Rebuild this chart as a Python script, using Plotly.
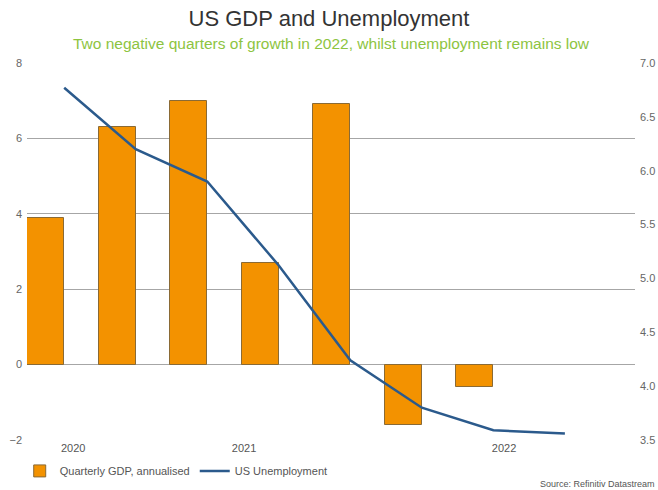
import numpy as np
import plotly.graph_objects as go

# Quarterly GDP growth (annualised, %) and US unemployment rate (%)
gdp_quarters = ["Q4 2020", "Q1 2021", "Q2 2021", "Q3 2021", "Q4 2021", "Q1 2022", "Q2 2022"]
gdp_growth = [3.9, 6.3, 7.0, 2.7, 6.9, -1.6, -0.6]
unemployment = [6.77, 6.2, 5.9, 5.12, 4.24, 3.8, 3.59, 3.56]
year_labels = ["2020", "2021", "2022"]

BAR_WIDTH = 0.52
bar_x = np.arange(len(gdp_growth))
line_x = np.arange(len(unemployment)) + BAR_WIDTH / 2
year_tick_pos = [0.385, 2.775, 6.41]

FONT = "Liberation Sans, Arial, sans-serif"
GRID = "#a6a6a6"
TICK = "#666666"

fig = go.Figure()
fig.add_trace(go.Bar(
    x=bar_x, y=gdp_growth, width=BAR_WIDTH,
    name="Quarterly GDP, annualised",
    customdata=gdp_quarters,
    marker=dict(color="#f39200", line=dict(color="#8a6a35", width=1)),
    yaxis="y",
))
fig.add_trace(go.Scatter(
    x=line_x, y=unemployment, mode="lines",
    name="US Unemployment",
    line=dict(color="#2b5a8c", width=2.5),
    yaxis="y2",
))

fig.update_layout(
    width=658, height=490,
    margin=dict(l=27, r=23, t=63, b=50, autoexpand=False),
    paper_bgcolor="white", plot_bgcolor="white",
    font=dict(family=FONT, color=TICK, size=11),
    title=dict(
        text="US GDP and Unemployment",
        x=0.5, xanchor="center", y=0.962, yanchor="middle",
        font=dict(size=22, color="#333333", family=FONT),
    ),
    xaxis=dict(
        range=[-BAR_WIDTH / 2, 8.24],
        tickmode="array", tickvals=year_tick_pos, ticktext=year_labels,
        showgrid=False, zeroline=False, showline=False,
        tickfont=dict(size=11, color="#555555"),
        ticklen=0, automargin=False,
    ),
    yaxis=dict(
        range=[-2, 8], dtick=2, tick0=0,
        showgrid=True, gridcolor=GRID, gridwidth=1,
        zeroline=False, showline=False,
        tickfont=dict(size=11, color=TICK),
        ticklabelstandoff=4, automargin=False,
    ),
    yaxis2=dict(
        range=[3.5, 7.0], dtick=0.5, tick0=3.5, tickformat=".1f",
        overlaying="y", side="right",
        showgrid=False, zeroline=False, showline=False,
        tickfont=dict(size=11, color=TICK),
        ticklabelstandoff=4, automargin=False,
    ),
    legend=dict(
        orientation="h", x=-0.012, xanchor="left", y=-0.082, yanchor="middle",
        font=dict(size=11, color="#555555"),
        itemwidth=30,
    ),
    showlegend=True,
    bargap=0,
)

fig.add_annotation(
    text="Two negative quarters of growth in 2022, whilst unemployment remains low",
    xref="paper", yref="paper", x=0.5, y=1.0, yshift=9,
    xanchor="center", yanchor="bottom", showarrow=False,
    font=dict(size=15.5, color="#8dc43f", family=FONT),
)
fig.add_annotation(
    text="Source: Refinitiv Datastream",
    xref="paper", yref="paper", x=1.0, xshift=22, y=0, yshift=-44,
    xanchor="right", yanchor="middle", showarrow=False,
    font=dict(size=9, color="#555555", family=FONT),
)

fig.write_html("out.html")
